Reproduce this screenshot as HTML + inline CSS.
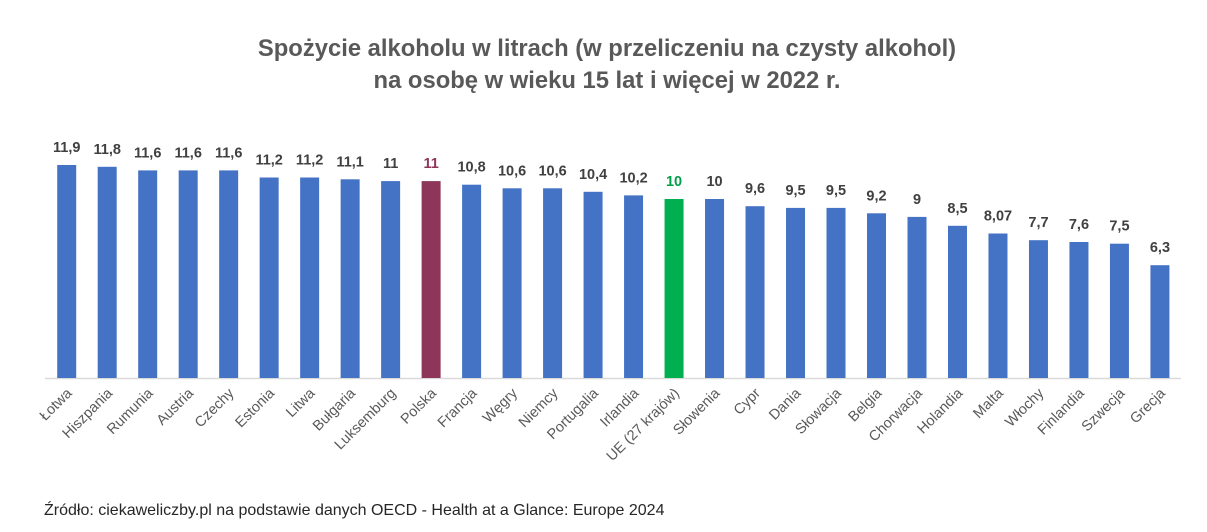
<!DOCTYPE html>
<html><head><meta charset="utf-8"><style>
body{margin:0;background:#fff;}
svg{display:block;font-family:"Liberation Sans",sans-serif;}
.v{font-size:14.5px;font-weight:bold;fill:#404040;text-anchor:middle;}
.c{font-size:14.5px;fill:#595959;text-anchor:end;}
rect{fill:#4472c4;}
</style></head><body>
<svg width="1207" height="532" viewBox="0 0 1207 532" xmlns="http://www.w3.org/2000/svg">
<text x="607" y="56" text-anchor="middle" font-size="23.8" font-weight="bold" fill="#595959">Spożycie alkoholu w litrach (w przeliczeniu na czysty alkohol)</text>
<text x="607" y="88" text-anchor="middle" font-size="23.8" font-weight="bold" fill="#595959">na osobę w wieku 15 lat i więcej w 2022 r.</text>
<line x1="45" y1="378.5" x2="1181" y2="378.5" stroke="#d9d9d9" stroke-width="1.5"/>

<g transform="translate(66.7,0)"><rect x="-9.5" y="165" width="19" height="213"/><text class="v" y="152">11,9</text><text class="c" transform="translate(6,394) rotate(-45)">Łotwa</text></g>
<g transform="translate(107.19,0)"><rect x="-9.5" y="166.8" width="19" height="211.2"/><text class="v" y="153.8">11,8</text><text class="c" transform="translate(6,394) rotate(-45)">Hiszpania</text></g>
<g transform="translate(147.68,0)"><rect x="-9.5" y="170.4" width="19" height="207.6"/><text class="v" y="157.4">11,6</text><text class="c" transform="translate(6,394) rotate(-45)">Rumunia</text></g>
<g transform="translate(188.17,0)"><rect x="-9.5" y="170.4" width="19" height="207.6"/><text class="v" y="157.4">11,6</text><text class="c" transform="translate(6,394) rotate(-45)">Austria</text></g>
<g transform="translate(228.66,0)"><rect x="-9.5" y="170.4" width="19" height="207.6"/><text class="v" y="157.4">11,6</text><text class="c" transform="translate(6,394) rotate(-45)">Czechy</text></g>
<g transform="translate(269.15,0)"><rect x="-9.5" y="177.5" width="19" height="200.5"/><text class="v" y="164.5">11,2</text><text class="c" transform="translate(6,394) rotate(-45)">Estonia</text></g>
<g transform="translate(309.64,0)"><rect x="-9.5" y="177.5" width="19" height="200.5"/><text class="v" y="164.5">11,2</text><text class="c" transform="translate(6,394) rotate(-45)">Litwa</text></g>
<g transform="translate(350.13,0)"><rect x="-9.5" y="179.3" width="19" height="198.7"/><text class="v" y="166.3">11,1</text><text class="c" transform="translate(6,394) rotate(-45)">Bułgaria</text></g>
<g transform="translate(390.62,0)"><rect x="-9.5" y="181.1" width="19" height="196.9"/><text class="v" y="168.1">11</text><text class="c" transform="translate(6,394) rotate(-45)">Luksemburg</text></g>
<g transform="translate(431.11,0)"><rect x="-9.5" y="181.1" width="19" height="196.9" style="fill:#8e3659"/><text class="v" y="168.1" style="fill:#8e3659">11</text><text class="c" transform="translate(6,394) rotate(-45)">Polska</text></g>
<g transform="translate(471.6,0)"><rect x="-9.5" y="184.7" width="19" height="193.3"/><text class="v" y="171.7">10,8</text><text class="c" transform="translate(6,394) rotate(-45)">Francja</text></g>
<g transform="translate(512.09,0)"><rect x="-9.5" y="188.3" width="19" height="189.7"/><text class="v" y="175.3">10,6</text><text class="c" transform="translate(6,394) rotate(-45)">Węgry</text></g>
<g transform="translate(552.58,0)"><rect x="-9.5" y="188.3" width="19" height="189.7"/><text class="v" y="175.3">10,6</text><text class="c" transform="translate(6,394) rotate(-45)">Niemcy</text></g>
<g transform="translate(593.07,0)"><rect x="-9.5" y="191.8" width="19" height="186.2"/><text class="v" y="178.8">10,4</text><text class="c" transform="translate(6,394) rotate(-45)">Portugalia</text></g>
<g transform="translate(633.56,0)"><rect x="-9.5" y="195.4" width="19" height="182.6"/><text class="v" y="182.4">10,2</text><text class="c" transform="translate(6,394) rotate(-45)">Irlandia</text></g>
<g transform="translate(674.05,0)"><rect x="-9.5" y="199" width="19" height="179" style="fill:#00b050"/><text class="v" y="186" style="fill:#00a04a">10</text><text class="c" transform="translate(6,394) rotate(-45)">UE (27 krajów)</text></g>
<g transform="translate(714.54,0)"><rect x="-9.5" y="199" width="19" height="179"/><text class="v" y="186">10</text><text class="c" transform="translate(6,394) rotate(-45)">Słowenia</text></g>
<g transform="translate(755.03,0)"><rect x="-9.5" y="206.2" width="19" height="171.8"/><text class="v" y="193.2">9,6</text><text class="c" transform="translate(6,394) rotate(-45)">Cypr</text></g>
<g transform="translate(795.52,0)"><rect x="-9.5" y="207.9" width="19" height="170.1"/><text class="v" y="194.9">9,5</text><text class="c" transform="translate(6,394) rotate(-45)">Dania</text></g>
<g transform="translate(836.01,0)"><rect x="-9.5" y="207.9" width="19" height="170.1"/><text class="v" y="194.9">9,5</text><text class="c" transform="translate(6,394) rotate(-45)">Słowacja</text></g>
<g transform="translate(876.5,0)"><rect x="-9.5" y="213.3" width="19" height="164.7"/><text class="v" y="200.3">9,2</text><text class="c" transform="translate(6,394) rotate(-45)">Belgia</text></g>
<g transform="translate(916.99,0)"><rect x="-9.5" y="216.9" width="19" height="161.1"/><text class="v" y="203.9">9</text><text class="c" transform="translate(6,394) rotate(-45)">Chorwacja</text></g>
<g transform="translate(957.48,0)"><rect x="-9.5" y="225.8" width="19" height="152.2"/><text class="v" y="212.8">8,5</text><text class="c" transform="translate(6,394) rotate(-45)">Holandia</text></g>
<g transform="translate(997.97,0)"><rect x="-9.5" y="233.5" width="19" height="144.5"/><text class="v" y="220.5">8,07</text><text class="c" transform="translate(6,394) rotate(-45)">Malta</text></g>
<g transform="translate(1038.46,0)"><rect x="-9.5" y="240.2" width="19" height="137.8"/><text class="v" y="227.2">7,7</text><text class="c" transform="translate(6,394) rotate(-45)">Włochy</text></g>
<g transform="translate(1078.95,0)"><rect x="-9.5" y="242" width="19" height="136"/><text class="v" y="229">7,6</text><text class="c" transform="translate(6,394) rotate(-45)">Finlandia</text></g>
<g transform="translate(1119.44,0)"><rect x="-9.5" y="243.7" width="19" height="134.3"/><text class="v" y="230.7">7,5</text><text class="c" transform="translate(6,394) rotate(-45)">Szwecja</text></g>
<g transform="translate(1159.93,0)"><rect x="-9.5" y="265.2" width="19" height="112.8"/><text class="v" y="252.2">6,3</text><text class="c" transform="translate(6,394) rotate(-45)">Grecja</text></g>

<text x="44" y="515" font-size="16" fill="#262626">Źródło: ciekaweliczby.pl na podstawie danych OECD - Health at a Glance: Europe 2024</text>
</svg>
</body></html>
